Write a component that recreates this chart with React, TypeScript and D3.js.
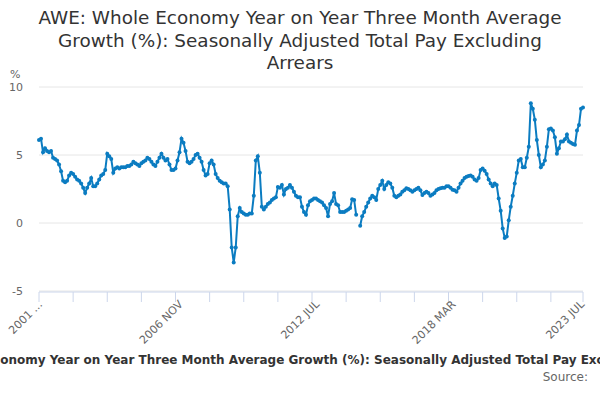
import React from "react";
import * as d3 from "d3";

const seg1 = [6.1,6.2,5.2,5.5,5.3,5.2,5.3,4.8,4.7,4.6,4.3,3.8,3.1,3.0,3.1,3.5,3.7,3.6,3.4,3.2,3.1,2.9,2.6,2.2,2.6,2.9,3.3,2.7,2.7,2.9,3.2,3.5,3.6,3.9,5.1,4.9,4.7,3.7,4.0,4.1,4.0,4.1,4.1,4.1,4.2,4.2,4.3,4.5,4.4,4.3,4.2,4.4,4.5,4.6,4.8,4.7,4.5,4.3,4.2,4.5,4.8,5.1,4.8,4.6,4.7,4.3,3.9,3.9,4.0,4.6,5.2,6.2,5.9,5.3,4.5,4.4,4.5,4.7,5.0,5.1,4.8,4.5,3.9,3.5,3.6,4.4,4.6,4.3,3.6,3.3,3.1,3.0,2.9,2.9,2.7,1.0,-1.8,-2.9,-1.8,0.5,1.1];
const seg2 = [0.8,0.7,0.6,0.6,0.7,0.7,2.0,4.6,4.9,3.7,1.2,1.0,1.2,1.4,1.5,1.7,1.8,1.9,2.65,2.6,2.8,2.1,2.5,2.6,2.8,2.6,2.3,2.0,1.9,1.9,1.2,0.8,0.6,1.3];
const seg3 = [1.6,1.7,1.8,1.8,1.7,1.6,1.5,1.3,1.1,0.5,1.4,1.6,2.2,1.4,1.3,0.8,0.8,0.8,0.9,1.0,1.1,1.75,1.7,0.6,null,-0.2,0.5,0.8,1.2,1.5,1.8,2.0,1.9,1.7,2.5,2.8,3.1,2.5,2.8,3.0,2.9,2.6,2.0,1.9,2.0,2.1,2.3,2.4,2.55,2.5,2.4,2.3,2.4,2.5,2.6,2.4,2.05,2.2,2.3,2.2,2.0,2.1,2.2,2.4,2.5,2.55,2.6,2.6,2.7,2.7,2.6,2.45,2.4,2.3,2.6,2.9,3.1,3.3,3.4,3.45,3.5,3.4,3.2,3.1,3.3,3.9,4.0,3.85,3.6,3.2,2.9,2.7,2.9,2.8,1.8,0.9,-0.4,-1.1,-1.0,0.2,1.2,2.0,2.9,3.7,4.6,4.7,4.1,4.1,4.8,5.6,8.8,8.4,7.6,6.1,5.0,4.1,4.3,4.6,5.6,6.9,6.95,6.8,6.3,5.1,5.5,6.0,6.0,6.15,6.5,6.0,5.9,5.8,5.75,6.8,7.2,8.4,8.5];
const values: (number | null)[] = [...seg1, ...seg2, ...seg3];
const yTicks = [-5, 0, 5, 10];
const xLabels = ["2001 ...", "2006 NOV", "2012 JUL", "2018 MAR", "2023 JUL"];
const xLabelIdx = [0, 70, 138, 206, 270];
const titleLines = ["AWE: Whole Economy Year on Year Three Month Average", "Growth (%): Seasonally Adjusted Total Pay Excluding", "Arrears"];
const seriesName = "AWE: Whole Economy Year on Year Three Month Average Growth (%): Seasonally Adjusted Total Pay Excluding Arrears";

export default function App() {
  const n = values.length;
  const x = d3.scaleLinear().domain([0, n - 1]).range([39, 583]);
  const y = d3.scaleLinear().domain([-5, 10]).range([291, 87]);
  const pts = values.map((v, i) => ({ i, v }));
  const line = d3.line<{ i: number; v: number | null }>()
    .defined(d => d.v !== null)
    .x(d => x(d.i)).y(d => y(d.v as number));
  const minorTicks = d3.range(0, n, 17);
  const font = "'DejaVu Sans', Verdana, sans-serif";
  return (
    <svg width={600} height={400} style={{ position: "absolute", left: 0, top: 0, fontFamily: font }}>
      <rect width={600} height={400} fill="#fff" />
      {titleLines.map((t, k) => (
        <text key={k} x={300} y={24 + k * 22.5} textAnchor="middle" fontSize={18.4} fill="#333">{t}</text>
      ))}
      <text x={10} y={78} fontSize={11} fill="#666">%</text>
      {yTicks.map(t => (
        <g key={t}>
          <line x1={39} x2={583} y1={y(t)} y2={y(t)} stroke="#e6e6e6" />
          <text x={23} y={y(t) + 4} textAnchor="end" fontSize={11} fill="#666">{t}</text>
        </g>
      ))}
      <line x1={39} x2={583} y1={292} y2={292} stroke="#ccd6eb" />
      {[...minorTicks, n - 1].map(i => (
        <line key={i} x1={x(i)} x2={x(i)} y1={292} y2={302} stroke="#ccd6eb" />
      ))}
      {xLabels.map((l, k) => (
        <text key={l} transform={`translate(${x(xLabelIdx[k]) + 4},${305}) rotate(-45)`} textAnchor="end" fontSize={11} fill="#666">{l}</text>
      ))}
      <path d={line(pts) || ""} fill="none" stroke="#0b7cc1" strokeWidth={2} />
      {pts.filter(p => p.v !== null).map(p => (
        <circle key={p.i} cx={x(p.i)} cy={y(p.v as number)} r={2} fill="#0b7cc1" />
      ))}
      <text x={300} y={364} textAnchor="middle" fontSize={12} fontWeight="bold" fill="#333">{seriesName}</text>
      <text x={588} y={381} textAnchor="end" fontSize={12} fill="#666">Source:</text>
    </svg>
  );
}
